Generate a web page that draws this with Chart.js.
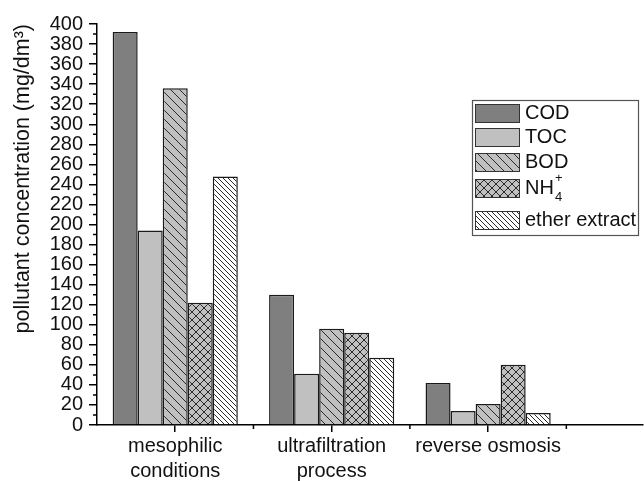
<!DOCTYPE html>
<html><head><meta charset="utf-8">
<script src="https://cdn.jsdelivr.net/npm/chart.js@4.4.1/dist/chart.umd.min.js"></script>
<style>html,body{margin:0;padding:0;background:#fff;}#wrap{width:644px;height:481px;position:relative;}</style>
</head><body>
<div id="wrap"><canvas id="c" width="644" height="481"></canvas></div>
<script>
// ---- data ----
const categories = [['mesophilic', 'conditions'], ['ultrafiltration', 'process'], ['reverse osmosis']];
const categoryPositions = [1, 2, 3];
const seriesNames = ['COD', 'TOC', 'BOD', 'NH4+', 'ether extract'];
const COD = [392, 130, 42];
const TOC = [194, 51, 14];
const BOD = [336, 96, 21];
const NH4 = [122, 92, 60];
const etherExtract = [248, 67, 12];
const yTickValues = [0, 20, 40, 60, 80, 100, 120, 140, 160, 180, 200, 220, 240, 260, 280, 300, 320, 340, 360, 380, 400];
const xMinorTicks = [1.5, 2.5, 3.5];
const yTitle = 'pollutant concentration (mg/dm\u00B3)';

const FONT = 'Liberation Sans, Arial, sans-serif';

function hatch(bg, s, dirs, lw) {
  const c = document.createElement('canvas');
  c.width = s; c.height = s;
  const g = c.getContext('2d');
  if (bg) { g.fillStyle = bg; g.fillRect(0, 0, s, s); }
  g.strokeStyle = '#2a2a2a';
  g.lineWidth = lw;
  g.beginPath();
  for (const d of dirs) {
    for (const o of [-s, 0, s]) {
      if (d === 'back') { g.moveTo(o, 0); g.lineTo(o + s, s); }
      else { g.moveTo(o, s); g.lineTo(o + s, 0); }
    }
  }
  g.stroke();
  return g.createPattern(c, 'repeat');
}

const fills = [
  '#7f7f7f',
  '#c0c0c0',
  hatch('#c0c0c0', 9, ['back'], 1),
  hatch('#c0c0c0', 8, ['back', 'fwd'], 1),
  hatch('#ffffff', 5, ['back'], 1)
];
const seriesValues = [COD, TOC, BOD, NH4, etherExtract];

const datasets = seriesValues.map((vals, i) => ({
  label: seriesNames[i],
  data: categoryPositions.map((x, j) => ({ x: x, y: vals[j] })),
  backgroundColor: fills[i],
  borderColor: '#1a1a1a',
  borderWidth: 1.5,
  categoryPercentage: 0.8,
  barPercentage: 1.0
}));

const minorTicks = {
  id: 'minorTicks',
  afterDraw(chart) {
    const { ctx, chartArea: a } = chart;
    const x = chart.scales.x, y = chart.scales.y;
    ctx.save();
    ctx.strokeStyle = '#000';
    ctx.lineWidth = 1.5;
    ctx.beginPath();
    for (const v of xMinorTicks) {
      const px = x.getPixelForValue(v);
      ctx.moveTo(px, a.bottom); ctx.lineTo(px, a.bottom + 4);
    }
    for (let i = 0; i < yTickValues.length - 1; i++) {
      const py = y.getPixelForValue((yTickValues[i] + yTickValues[i + 1]) / 2);
      ctx.moveTo(a.left, py); ctx.lineTo(a.left - 4, py);
    }
    ctx.stroke();
    ctx.restore();
  }
};

const boxLegend = {
  id: 'boxLegend',
  afterDraw(chart) {
    const ctx = chart.ctx;
    const bx = 472, by = 100, bw = 166, bh = 135;
    const rows = [113, 137, 162, 188, 220];
    ctx.save();
    ctx.fillStyle = '#fff';
    ctx.fillRect(bx, by, bw, bh);
    ctx.strokeStyle = '#555';
    ctx.lineWidth = 1.2;
    ctx.strokeRect(bx + 0.5, by + 0.5, bw, bh);
    chart.data.datasets.forEach((ds, i) => {
      const cy = rows[i];
      ctx.fillStyle = ds.backgroundColor;
      ctx.fillRect(475, cy - 9, 44, 18);
      ctx.strokeStyle = '#333';
      ctx.lineWidth = 1;
      ctx.strokeRect(475.5, cy - 8.5, 44, 18);
      ctx.fillStyle = '#111';
      ctx.textBaseline = 'middle';
      ctx.textAlign = 'left';
      ctx.font = '20px ' + FONT;
      if (ds.label === 'NH4+') {
        ctx.fillText('NH', 525, cy);
        const w = ctx.measureText('NH').width;
        ctx.font = '13px ' + FONT;
        ctx.fillText('4', 525 + w + 1, cy + 9);
        ctx.fillText('+', 525 + w + 1, cy - 10);
      } else {
        ctx.fillText(ds.label, 525, cy);
      }
    });
    ctx.restore();
  }
};

new Chart(document.getElementById('c'), {
  type: 'bar',
  data: { datasets: datasets },
  plugins: [minorTicks, boxLegend],
  options: {
    responsive: false,
    animation: false,
    devicePixelRatio: 1,
    layout: { padding: { top: 24, right: 1, bottom: 0, left: 0 } },
    plugins: { legend: { display: false }, tooltip: { enabled: false } },
    scales: {
      x: {
        type: 'linear',
        min: 0.5,
        max: 3.99,
        offset: false,
        grid: { display: true, offset: false, drawOnChartArea: false, drawTicks: true, tickLength: 7, color: '#000', lineWidth: 1.5 },
        border: { display: true, color: '#000', width: 1.5 },
        ticks: {
          autoSkip: false, maxRotation: 0, minRotation: 0, padding: 2, color: '#111',
          font: { family: FONT, size: 20, lineHeight: 1.25 },
          callback: (v) => { const k = categoryPositions.indexOf(v); return k >= 0 ? categories[k] : ''; }
        },
        afterBuildTicks: (s) => { s.ticks = categoryPositions.map(v => ({ value: v })); },
        afterFit: (s) => { s.height = 56; }
      },
      y: {
        type: 'linear',
        min: 0,
        max: 400,
        grid: { display: true, drawOnChartArea: false, drawTicks: true, tickLength: 8, color: '#000', lineWidth: 1.5 },
        border: { display: true, color: '#000', width: 1.5 },
        ticks: { autoSkip: false, padding: 6, color: '#111', font: { family: FONT, size: 20 } },
        afterBuildTicks: (s) => { s.ticks = yTickValues.map(v => ({ value: v })); },
        afterFit: (s) => { s.width = 97; },
        title: { display: true, text: yTitle, align: 'end', color: '#111', font: { family: FONT, size: 21.5 }, padding: { top: 10, bottom: 0 } }
      }
    }
  }
});
</script>
</body></html>
